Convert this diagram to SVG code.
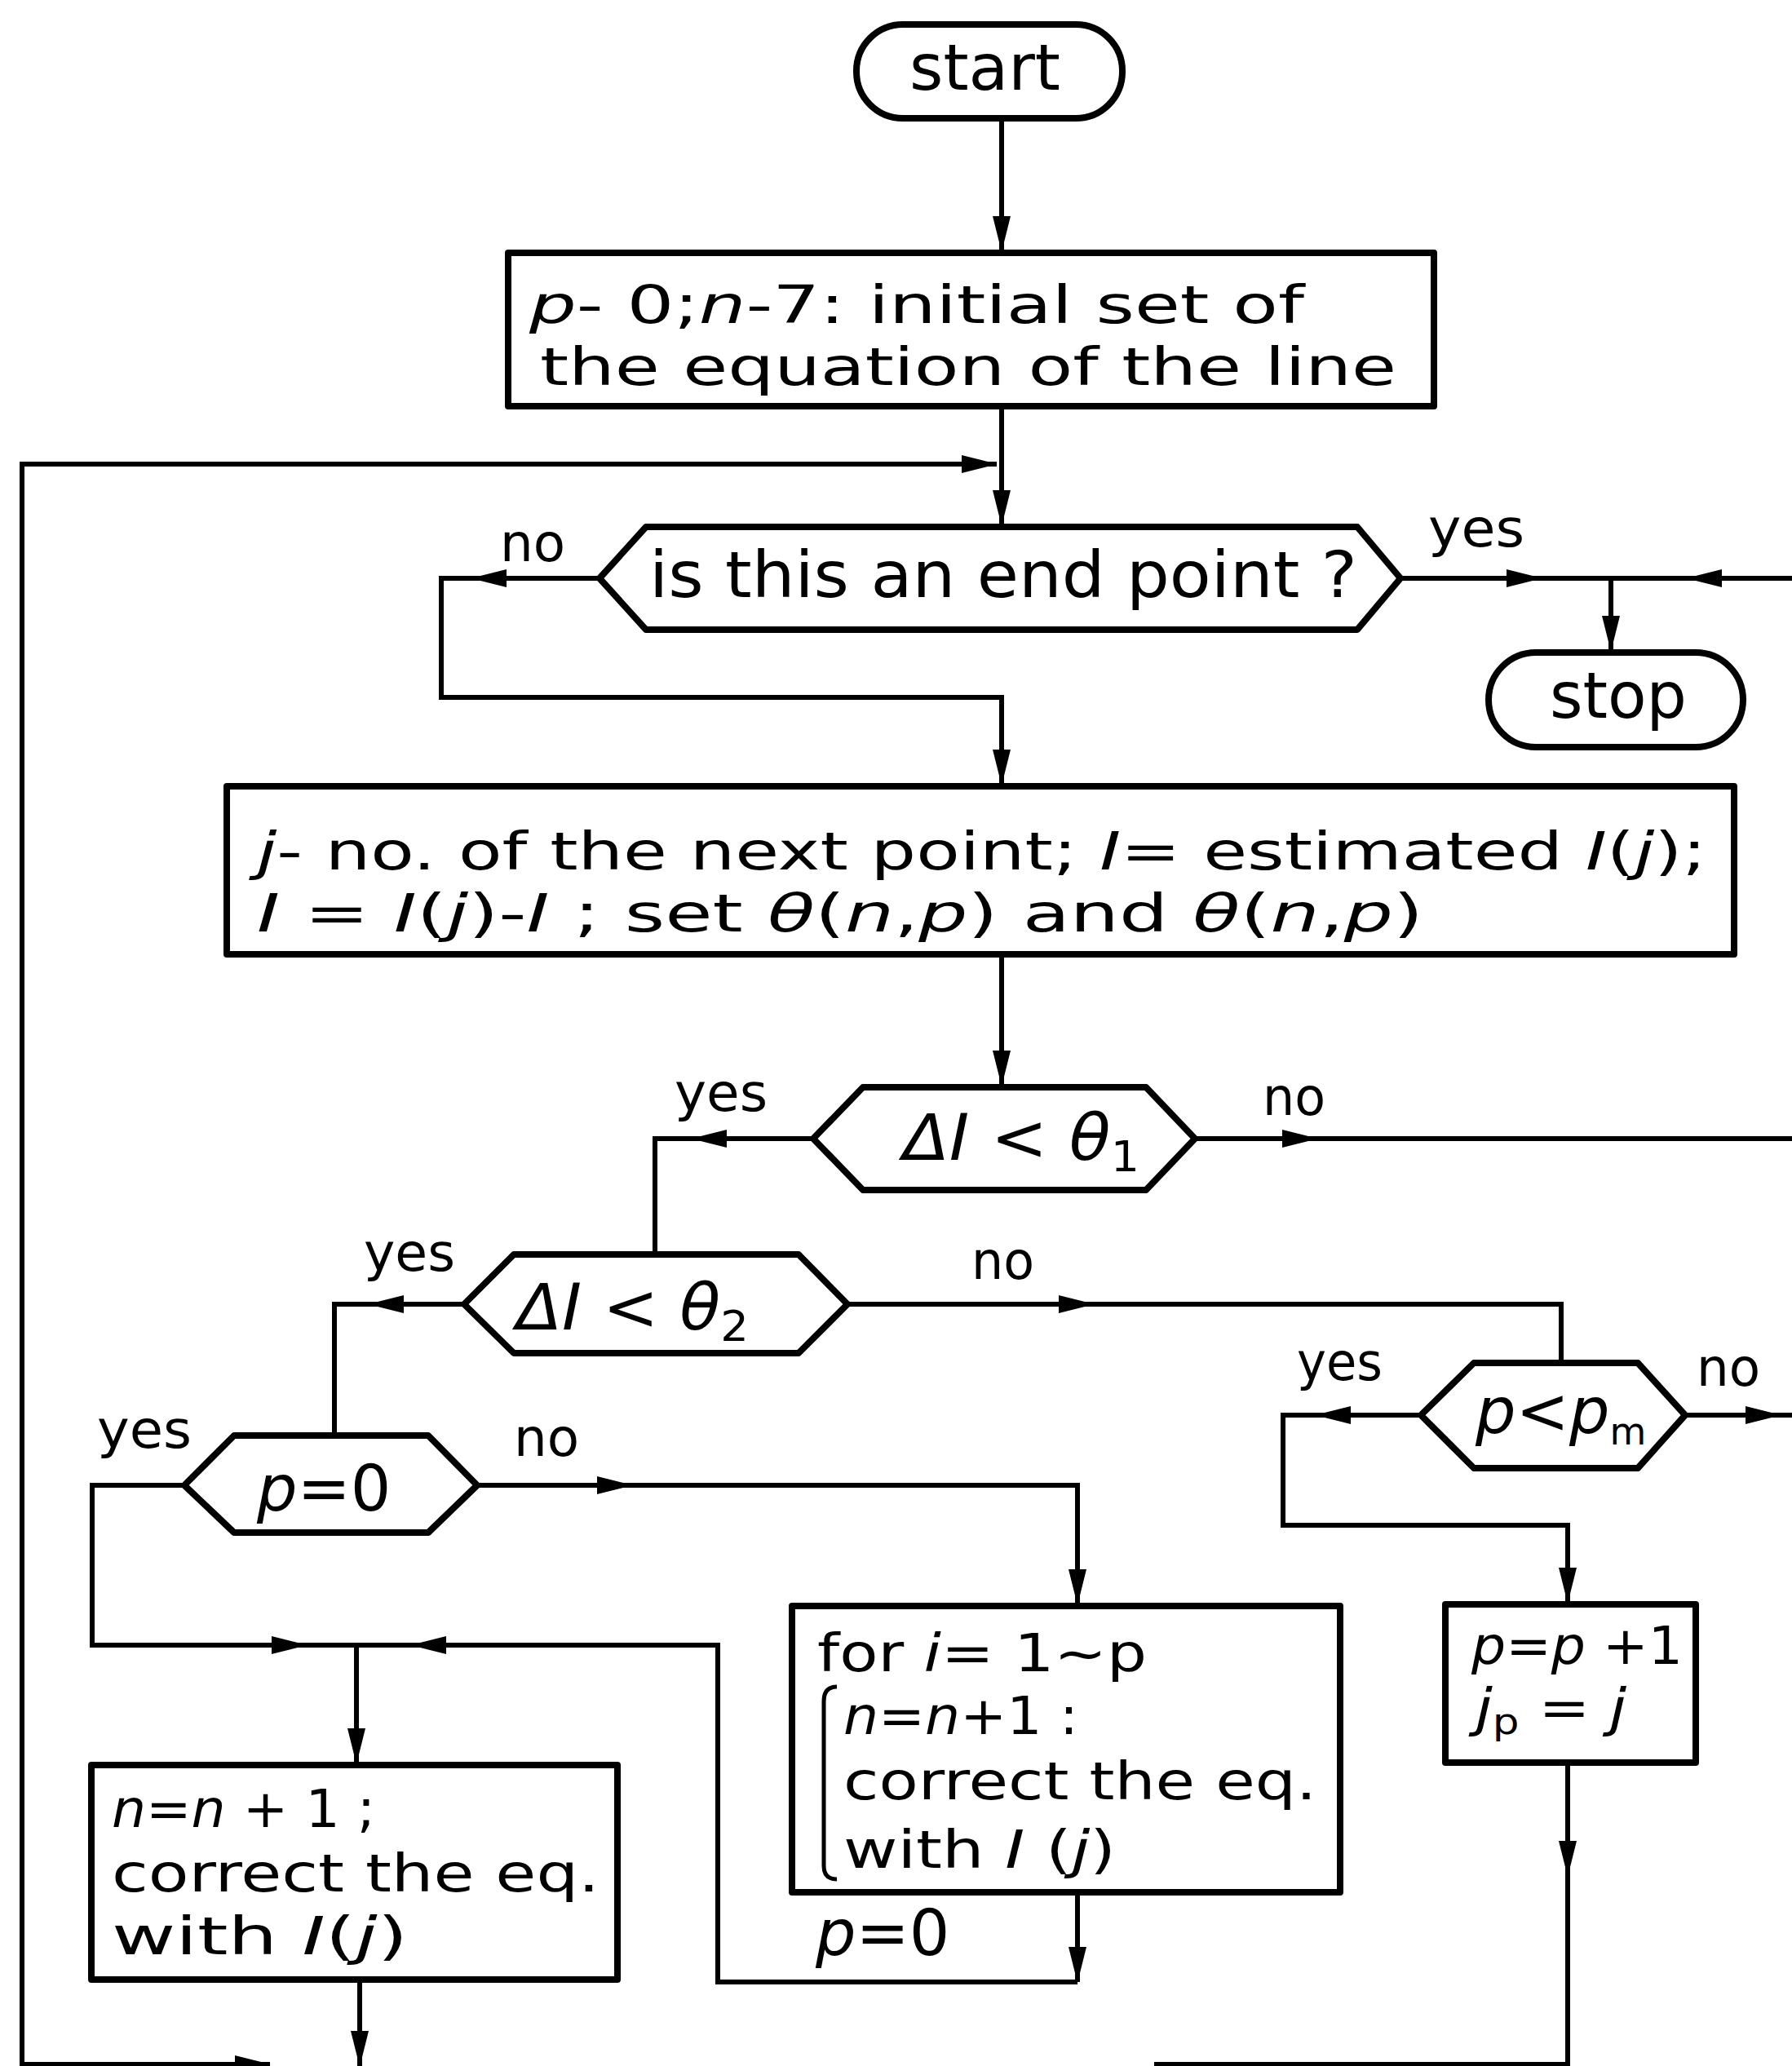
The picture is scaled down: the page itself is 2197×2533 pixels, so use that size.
<svg xmlns="http://www.w3.org/2000/svg" width="2197" height="2533" viewBox="0 0 2197 2533">
<style>
.shape{fill:none;stroke:#000;stroke-width:8;stroke-linejoin:round}
.con{fill:none;stroke:#000;stroke-width:6;stroke-linejoin:miter}
.t{font-family:"DejaVu Sans","Liberation Sans",sans-serif;font-size:64px;fill:#000}
.h{font-family:"DejaVu Sans","Liberation Sans",sans-serif;font-size:78px;fill:#000}
.lbl{font-family:"DejaVu Sans","Liberation Sans",sans-serif;font-size:64px;fill:#000}
.i{font-style:italic}
</style>
<defs>
<marker id="ah" markerUnits="userSpaceOnUse" markerWidth="44" markerHeight="26" viewBox="0 0 44 26" refX="43" refY="13" orient="auto">
<path d="M0,2 L44,13 L0,24 Z" fill="#000"/>
</marker>
</defs>
<rect width="2197" height="2533" fill="#fff"/>

<g id="connectors">
<path class="con" d="M1228,145 V308" marker-end="url(#ah)"/>
<path class="con" d="M27,2533 V569 H1222" marker-end="url(#ah)"/>
<path class="con" d="M1228,498 V644" marker-end="url(#ah)"/>
<path class="con" d="M735,709 H578" marker-end="url(#ah)"/>
<path class="con" d="M584,709 H541 V855 H1228 V962" marker-end="url(#ah)"/>
<path class="con" d="M1717,709 H1890" marker-end="url(#ah)"/>
<path class="con" d="M1884,709 H2197"/>
<path class="con" d="M2197,709 H2068" marker-end="url(#ah)"/>
<path class="con" d="M1975,709 V798" marker-end="url(#ah)"/>
<path class="con" d="M1228,1170 V1331" marker-end="url(#ah)"/>
<path class="con" d="M997,1396 H848" marker-end="url(#ah)"/>
<path class="con" d="M854,1396 H803 V1538"/>
<path class="con" d="M1465,1396 H1615" marker-end="url(#ah)"/>
<path class="con" d="M1609,1396 H2197"/>
<path class="con" d="M569,1599 H452" marker-end="url(#ah)"/>
<path class="con" d="M458,1599 H410 V1760"/>
<path class="con" d="M1039,1599 H1341" marker-end="url(#ah)"/>
<path class="con" d="M1335,1599 H1914 V1672"/>
<path class="con" d="M1742,1735 H1613" marker-end="url(#ah)"/>
<path class="con" d="M1619,1735 H1573 V1870 H1922 V1965" marker-end="url(#ah)"/>
<path class="con" d="M2066,1735 H2183" marker-end="url(#ah)"/>
<path class="con" d="M2177,1735 H2197"/>
<path class="con" d="M226,1821 H113 V2017 H376" marker-end="url(#ah)"/>
<path class="con" d="M370,2017 H437 V2162" marker-end="url(#ah)"/>
<path class="con" d="M585,1821 H775" marker-end="url(#ah)"/>
<path class="con" d="M769,1821 H1321 V1967" marker-end="url(#ah)"/>
<path class="con" d="M1321,2320 V2430" marker-end="url(#ah)"/>
<path class="con" d="M1321,2430 H880 V2017 H504" marker-end="url(#ah)"/>
<path class="con" d="M510,2017 H437"/>
<path class="con" d="M441,2427 V2533" marker-end="url(#ah)"/>
<path class="con" d="M1922,2161 V2300" marker-end="url(#ah)"/>
<path class="con" d="M1922,2294 V2531 H1415"/>
<path class="con" d="M27,2531 H331" marker-end="url(#ah)"/>
</g>

<g id="start">
<rect class="shape" x="1050" y="30" width="326" height="115" rx="57"/>
<text class="h" x="1115" y="110" font-size="72" textLength="185" lengthAdjust="spacingAndGlyphs">start</text>
</g>

<g id="init">
<rect class="shape" x="623" y="310" width="1135" height="188"/>
<text class="t" x="649" y="396" textLength="950" lengthAdjust="spacingAndGlyphs"><tspan class="i">p</tspan>- 0;<tspan class="i">n</tspan>-7: initial set of</text>
<text class="t" x="662" y="472" textLength="1050" lengthAdjust="spacingAndGlyphs">the  equation  of  the  line</text>
</g>

<g id="endpoint">
<polygon class="shape" points="735,709 792,646 1664,646 1717,709 1664,772 792,772"/>
<text class="h" x="796" y="732" font-size="80" textLength="868" lengthAdjust="spacingAndGlyphs">is  this  an  end  point ?</text>
<text class="lbl" x="613" y="688" textLength="80" lengthAdjust="spacingAndGlyphs">no</text>
<text class="lbl" x="1751" y="670" textLength="118" lengthAdjust="spacingAndGlyphs">yes</text>
</g>

<g id="stop">
<rect class="shape" x="1825" y="800" width="312" height="116" rx="58"/>
<text class="h" x="1900" y="880" font-size="72" textLength="168" lengthAdjust="spacingAndGlyphs">stop</text>
</g>

<g id="nextpoint">
<rect class="shape" x="278" y="964" width="1848" height="206"/>
<text class="t" x="315" y="1066" textLength="1777" lengthAdjust="spacingAndGlyphs"><tspan class="i">j</tspan>- no. of  the  next  point;  <tspan class="i">I</tspan>= estimated  <tspan class="i">I</tspan>(<tspan class="i">j</tspan>);</text>
<text class="t" x="315" y="1142" textLength="1430" lengthAdjust="spacingAndGlyphs"><tspan class="i">I</tspan> = <tspan class="i">I</tspan>(<tspan class="i">j</tspan>)-<tspan class="i">I</tspan>   ; set  <tspan class="i">θ</tspan>(<tspan class="i">n</tspan>,<tspan class="i">p</tspan>) and <tspan class="i">θ</tspan>(<tspan class="i">n</tspan>,<tspan class="i">p</tspan>)</text>
</g>

<g id="theta1">
<polygon class="shape" points="997,1396 1058,1333 1405,1333 1465,1396 1405,1459 1058,1459"/>
<text class="h" x="1107" y="1422" textLength="290" lengthAdjust="spacingAndGlyphs"><tspan class="i">ΔI</tspan> &lt; <tspan class="i">θ</tspan><tspan font-size="52" dy="14">1</tspan></text>
<text class="lbl" x="827" y="1362" textLength="114" lengthAdjust="spacingAndGlyphs">yes</text>
<text class="lbl" x="1548" y="1367" textLength="77" lengthAdjust="spacingAndGlyphs">no</text>
</g>

<g id="theta2">
<polygon class="shape" points="569,1599 630,1538 979,1538 1039,1599 979,1659 630,1659"/>
<text class="h" x="633" y="1630" textLength="285" lengthAdjust="spacingAndGlyphs"><tspan class="i">ΔI</tspan> &lt; <tspan class="i">θ</tspan><tspan font-size="52" dy="14">2</tspan></text>
<text class="lbl" x="446" y="1558" textLength="112" lengthAdjust="spacingAndGlyphs">yes</text>
<text class="lbl" x="1191" y="1568" textLength="77" lengthAdjust="spacingAndGlyphs">no</text>
</g>

<g id="pzero">
<polygon class="shape" points="226,1821 287,1760 525,1760 585,1821 525,1879 287,1879"/>
<text class="h" x="315" y="1852" font-size="84"><tspan class="i">p</tspan>=0</text>
<text class="lbl" x="119" y="1775" textLength="116" lengthAdjust="spacingAndGlyphs">yes</text>
<text class="lbl" x="630" y="1785" textLength="80" lengthAdjust="spacingAndGlyphs">no</text>
</g>

<g id="pmax">
<polygon class="shape" points="1742,1735 1807,1671 2008,1671 2066,1735 2008,1800 1807,1800"/>
<text class="h" x="1809" y="1757" font-size="70"><tspan class="i">p</tspan>&lt;<tspan class="i">p</tspan><tspan font-size="46" dy="14">m</tspan></text>
<text class="lbl" x="1590" y="1692" textLength="105" lengthAdjust="spacingAndGlyphs">yes</text>
<text class="lbl" x="2080" y="1699" textLength="78" lengthAdjust="spacingAndGlyphs">no</text>
</g>

<g id="forloop">
<rect class="shape" x="971" y="1969" width="672" height="351"/>
<text class="t" x="1002" y="2049" textLength="404" lengthAdjust="spacingAndGlyphs">for   <tspan class="i">i</tspan>= 1~p</text>
<path d="M1026,2068 Q1010,2068 1010,2086 V2288 Q1010,2304 1026,2304" fill="none" stroke="#000" stroke-width="5"/>
<text class="t" x="1034" y="2126" textLength="288" lengthAdjust="spacingAndGlyphs"><tspan class="i">n</tspan>=<tspan class="i">n</tspan>+1 :</text>
<text class="t" x="1034" y="2206" textLength="580" lengthAdjust="spacingAndGlyphs">correct  the  eq.</text>
<text class="t" x="1034" y="2290" textLength="334" lengthAdjust="spacingAndGlyphs">with  <tspan class="i">I</tspan> (<tspan class="i">j</tspan>)</text>
<text class="h" x="1000" y="2397" font-size="84"><tspan class="i">p</tspan>=0</text>
</g>

<g id="correct">
<rect class="shape" x="112" y="2164" width="645" height="263"/>
<text class="t" x="137" y="2240" textLength="323" lengthAdjust="spacingAndGlyphs"><tspan class="i">n</tspan>=<tspan class="i">n</tspan> + 1 ;</text>
<text class="t" x="137" y="2319" textLength="598" lengthAdjust="spacingAndGlyphs">correct  the  eq.</text>
<text class="t" x="137" y="2396" textLength="363" lengthAdjust="spacingAndGlyphs">with  <tspan class="i">I</tspan>(<tspan class="i">j</tspan>)</text>
</g>

<g id="pinc">
<rect class="shape" x="1772" y="1967" width="307" height="194"/>
<text class="t" x="1804" y="2040" textLength="259" lengthAdjust="spacingAndGlyphs"><tspan class="i">p</tspan>=<tspan class="i">p</tspan> +1</text>
<text class="t" x="1809" y="2116" textLength="185" lengthAdjust="spacingAndGlyphs"><tspan class="i">j</tspan><tspan font-size="44" dy="10">p</tspan><tspan dy="-10"> = </tspan><tspan class="i">j</tspan></text>
</g>
</svg>
